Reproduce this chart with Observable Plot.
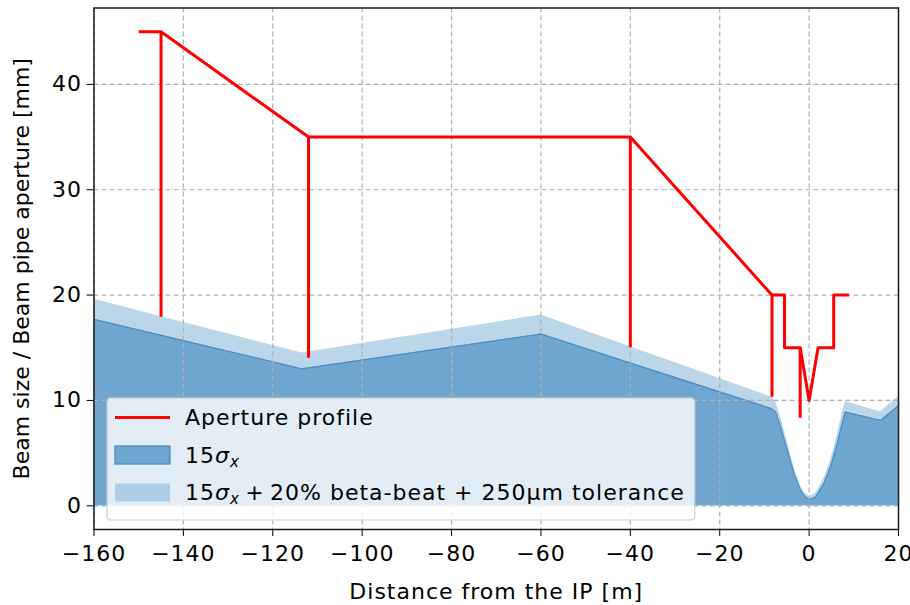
<!DOCTYPE html>
<html>
<head>
<meta charset="utf-8">
<script src="https://cdn.jsdelivr.net/npm/d3@7"></script>
<script src="https://cdn.jsdelivr.net/npm/@observablehq/plot@0.6"></script>
<style>
  body { margin: 0; background: #fff; }
  #chart svg { font-family: "DejaVu Sans", sans-serif; }
</style>
</head>
<body>
<div id="chart"></div>
<script>
// Beam pipe aperture profile: distance from the IP [m] and aperture [mm]
const apertureS  = [-150, -145, -112, -40, -8.3, -5.5, -5.5, -2, 0, 2, 5.5, 5.5, 8.9];
const apertureMm = [45,   45,   35,   35,  20,   20,   15,   15, 10, 15, 15,  20,  20];

// Vertical aperture steps drawn down towards the beam envelope
const stepS      = [-145, -112, -40, -8.3, -2];
const stepTop    = [45,   35,   35,  20,   15];
const stepBottom = [17.9, 14.0, 15.0, 10.3, 8.3];

// Beam envelope: 15 sigma_x and 15 sigma_x with beta-beat and tolerance [mm]
const beamS   = [-160, -113.5, -60, -8.3, -7.5, -6.4, -4.9, -3.4, -1.95, -0.9, 0,   0.7, 1.5,  3.3, 4.8, 6.3, 7.4, 8.1, 16,  20];
const beam15  = [17.7, 13.0,  16.3, 9.2,  8.9,  7.5,  5.3,  3.1,  1.5,   0.85, 0.6, 0.7, 0.85, 2.1, 3.7, 5.9, 7.8, 8.9, 8.1, 9.5];
const beamTol = [19.6, 14.5,  18.1, 10.3, 9.9,  8.5,  6.1,  3.7,  1.9,   1.2,  0.9, 1.0, 1.2,  2.6, 4.3, 6.7, 8.8, 9.9, 8.9, 10.4];

// Axis ticks
const xTicks = [-160, -140, -120, -100, -80, -60, -40, -20, 0, 20];
const yTicks = [0, 10, 20, 30, 40];

const aperture = apertureS.map((s, i) => ({s, a: apertureMm[i]}));
const steps = stepS.map((s, i) => ({s, hi: stepTop[i], lo: stepBottom[i]}));
const beam = beamS.map((s, i) => ({s, b: beam15[i], t: beamTol[i]}));

const W = 910, H = 605;
const M = {left: 93.5, right: 12, top: 7.5, bottom: 76};
const FS = 22;

const colDark = "#6ea6cf", colDarkEdge = "#4d8dc2", colLight = "#bcd6e9";

const chart = Plot.plot({
  width: W,
  height: H,
  marginLeft: M.left,
  marginRight: M.right,
  marginTop: M.top,
  marginBottom: M.bottom,
  style: {fontFamily: "DejaVu Sans, sans-serif", fontSize: FS + "px", color: "#000", background: "#fff", letterSpacing: "1px"},
  x: {domain: [-160, 20]},
  y: {domain: [-2.25, 47.25]},
  marks: [
    Plot.areaY(beam, {x: "s", y1: 0, y2: "t", fill: colLight}),
    Plot.areaY(beam, {x: "s", y1: 0, y2: "b", fill: colDark}),
    Plot.lineY(beam, {x: "s", y: "b", stroke: colDarkEdge, strokeWidth: 1.3}),
    Plot.ruleX(xTicks, {stroke: "#b0b0b0", strokeWidth: 1.2, strokeDasharray: "5,3"}),
    Plot.ruleY(yTicks, {stroke: "#b0b0b0", strokeWidth: 1.2, strokeDasharray: "5,3"}),
    Plot.ruleX(steps, {x: "s", y1: "lo", y2: "hi", stroke: "red", strokeWidth: 3, strokeLinecap: "butt"}),
    Plot.line(aperture, {x: "s", y: "a", stroke: "red", strokeWidth: 3, strokeLinejoin: "round", strokeLinecap: "butt"}),
    Plot.axisX({
      ticks: xTicks, tickSize: 7, tickPadding: 9, fontSize: FS,
      label: "Distance from the IP [m]", labelAnchor: "center", labelArrow: "none", labelOffset: 69
    }),
    Plot.axisY({
      ticks: yTicks, tickSize: 7, tickPadding: 5, fontSize: FS,
      label: "Beam size / Beam pipe aperture [mm]", labelAnchor: "center", labelArrow: "none", labelOffset: 80.5
    }),
    Plot.frame({stroke: "#1a1a1a", strokeWidth: 1.5})
  ]
});

document.getElementById("chart").append(chart);

const svg = d3.select(chart);
// The vertical axis title keeps normal spacing
svg.selectAll('[aria-label="y-axis label"] text').style("letter-spacing", "0px");

// Legend box in the lower-left corner of the plot area
const lx = M.left + 13.5;
const lBottom = H - M.bottom - 9;
const rowGap = 37.5;
const lh = 122;
const ly = lBottom - lh;
const g = svg.append("g")
  .attr("font-family", "DejaVu Sans, sans-serif")
  .attr("font-size", FS)
  .attr("text-anchor", "start")
  .attr("fill", "#000");

const boxRect = g.append("rect")
  .attr("x", lx).attr("y", ly).attr("height", lh).attr("width", 590)
  .attr("rx", 4).attr("fill", "#fff").attr("fill-opacity", 0.8)
  .attr("stroke", "#cccccc").attr("stroke-width", 1.2);

const handleX = lx + 8, handleW = 55, textX = lx + 78;
const rowY = [ly + 19.5, ly + 19.5 + rowGap, ly + 19.5 + 2 * rowGap];

g.append("line")
  .attr("x1", handleX).attr("x2", handleX + handleW)
  .attr("y1", rowY[0]).attr("y2", rowY[0])
  .attr("stroke", "red").attr("stroke-width", 3);
g.append("rect")
  .attr("x", handleX).attr("y", rowY[1] - 9).attr("width", handleW).attr("height", 18)
  .attr("fill", colDark).attr("stroke", colDarkEdge).attr("stroke-width", 1.3);
g.append("rect")
  .attr("x", handleX).attr("y", rowY[2] - 9).attr("width", handleW).attr("height", 18)
  .attr("fill", "#aecde6");

g.append("text").attr("x", textX).attr("y", rowY[0]).attr("dy", "0.36em").text("Aperture profile");

function sigmaLabel(sel) {
  sel.append("tspan").text("15");
  sel.append("tspan").attr("font-style", "italic").text("σ");
  sel.append("tspan").attr("font-style", "italic").attr("font-size", 15).attr("dy", 4).text("x");
}
const t2 = g.append("text").attr("x", textX).attr("y", rowY[1]).attr("dy", "0.36em");
sigmaLabel(t2);
const t3 = g.append("text").attr("x", textX).attr("y", rowY[2]).attr("dy", "0.36em");
sigmaLabel(t3);
t3.append("tspan").attr("dy", -4).text("\u2009+\u200920% beta-beat + 250μm tolerance");

const tw = t3.node().getComputedTextLength();
boxRect.attr("width", textX + tw + 10 - lx);
</script>
</body>
</html>
